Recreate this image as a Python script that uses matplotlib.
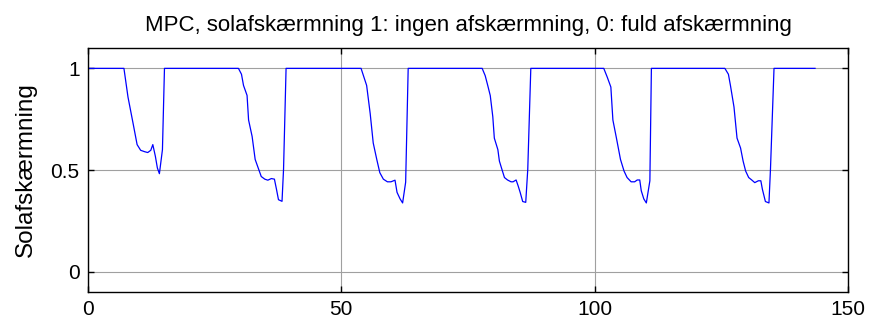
import matplotlib.pyplot as plt
import numpy as np

# solafskærmning (1 = ingen, 0 = fuld), tid i timer
tid = [0, 7.1, 7.9, 8.9, 9.7, 10.4, 11.2, 11.8, 12.4, 12.8, 13.3, 13.7, 14.1, 14.7, 15.1,
       29.7, 30.3, 30.7, 31.4, 31.7, 32.4, 33.0, 33.7, 34.2, 34.9, 35.5, 36.2, 36.8, 37.2,
       37.6, 38.3, 38.6, 39.1,
       53.9, 55.0, 55.7, 56.3, 57.0, 57.6, 58.3, 59.1, 59.8, 60.6, 61.0, 61.6, 62.1, 62.7, 63.2,
       77.8, 78.4, 78.9, 79.4, 79.9, 80.2, 80.9, 81.2, 81.7, 82.2, 82.8, 83.5, 83.9, 84.5,
       84.9, 85.3, 85.8, 86.4, 86.8, 87.4,
       101.8, 102.5, 103.2, 103.6, 104.3, 105.1, 105.8, 106.4, 107.2, 107.9, 108.4, 108.9,
       109.2, 109.7, 110.2, 110.9, 111.2,
       125.7, 126.4, 126.8, 127.5, 128.1, 128.8, 129.3, 129.8, 130.4, 131.0, 131.6, 132.3,
       132.8, 133.1, 133.7, 134.4, 134.7, 135.4, 143.5]
skaerm = [1, 1, 0.859, 0.73, 0.625, 0.597, 0.59, 0.586, 0.597, 0.625, 0.568, 0.51, 0.482, 0.60, 1,
          1, 0.971, 0.916, 0.867, 0.746, 0.665, 0.552, 0.503, 0.468, 0.455, 0.45, 0.458, 0.455, 0.406,
          0.354, 0.346, 0.503, 1,
          1, 0.916, 0.778, 0.633, 0.552, 0.487, 0.455, 0.442, 0.442, 0.45, 0.39, 0.358, 0.338, 0.44, 1,
          1, 0.964, 0.916, 0.866, 0.762, 0.657, 0.60, 0.544, 0.503, 0.463, 0.451, 0.442, 0.442, 0.451,
          0.422, 0.39, 0.345, 0.341, 0.503, 1,
          1, 0.956, 0.908, 0.746, 0.657, 0.552, 0.495, 0.463, 0.442, 0.442, 0.451, 0.451,
          0.398, 0.358, 0.338, 0.447, 1,
          1, 0.971, 0.916, 0.81, 0.657, 0.608, 0.544, 0.495, 0.463, 0.451, 0.438, 0.447,
          0.447, 0.406, 0.345, 0.338, 0.503, 1, 1]

xticks = [0, 50, 100, 150]
yticks = [0, 0.5, 1]

plt.rcParams['font.family'] = ['Liberation Sans', 'DejaVu Sans']

fig = plt.figure(figsize=(8.7, 3.29), dpi=100)
ax = fig.add_axes([0.1011, 0.1125, 0.8736, 0.7415])

ax.plot(tid, skaerm, color='#0000ff', linewidth=0.9)

ax.set_xlim(0, 150)
ax.set_ylim(-0.1, 1.1)
ax.set_xticks(xticks)
ax.set_yticks(yticks)
ax.set_xticklabels([str(v) for v in xticks])
ax.set_yticklabels(['0', '0.5', '1'])
ax.grid(True, color='#a0a0a0', linewidth=0.8)
ax.tick_params(direction='in', top=True, right=True, length=4, width=1,
               labelsize=15, pad=6)
for sp in ax.spines.values():
    sp.set_linewidth(1.0)

ax.set_ylabel('Solafskærmning', fontsize=17.5, labelpad=10)
ax.set_title('MPC, solafskærmning 1: ingen afskærmning, 0: fuld afskærmning',
             fontsize=16, pad=12)

fig.savefig('out.png', dpi=100)
